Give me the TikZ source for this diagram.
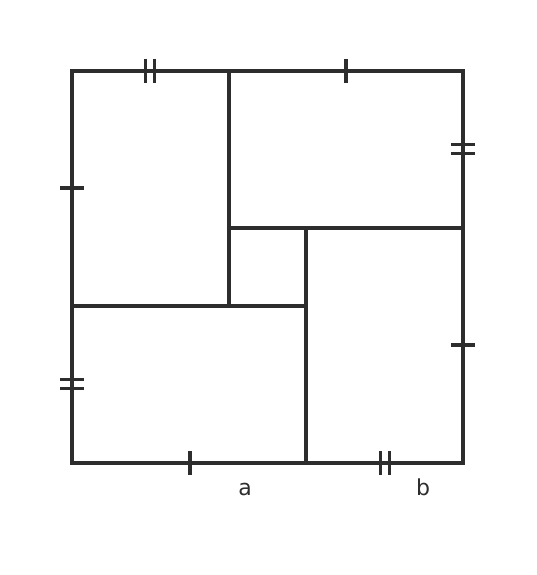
\documentclass[tikz,border=0pt]{standalone}
\usepackage{fontspec}
\setmainfont{DejaVu Sans}
\usepackage{tikz}
\usepackage{xcolor}
\definecolor{ink}{HTML}{2D2D2D}

\begin{document}
\begin{tikzpicture}[x=1pt, y=-1pt,
      edge/.style={draw=ink, line width=3.6pt},
      tickmark/.style={draw=ink, line width=3.6pt},
      lbl/.style={text=ink, font=\fontsize{22}{26}\selectfont, inner sep=0pt, anchor=base}]
    \useasboundingbox (0,0) rectangle (536,575);
    % corners and cut points
    \coordinate (TL) at (72,71);
    \coordinate (TR) at (463,71);
    \coordinate (BR) at (463,463);
    \coordinate (BL) at (72,463);
    \coordinate (P) at (229,71);
    \coordinate (Q) at (229,306);
    \coordinate (R) at (229,228);
    \coordinate (S) at (463,228);
    \coordinate (T) at (306,228);
    \coordinate (U) at (306,463);
    \coordinate (V) at (72,306);
    \coordinate (W) at (306,306);
    \draw[edge] (TL) -- (TR) -- (BR) -- (BL) -- cycle;
    \draw[edge] (P) -- (Q);
    \draw[edge] (R) -- (S);
    \draw[edge] (T) -- (U);
    \draw[edge] (V) -- (W);
    % single ticks on horizontal sides
    \foreach \x/\y in {346/71, 190/463}
      \draw[tickmark] (\x,\y-12) -- (\x,\y+12);
    % double ticks on horizontal sides
    \foreach \x/\y in {150/71, 385/463} {
      \draw[tickmark] (\x-4.5,\y-12) -- (\x-4.5,\y+12);
      \draw[tickmark] (\x+4.5,\y-12) -- (\x+4.5,\y+12);
    }
    % single ticks on vertical sides
    \foreach \x/\y in {72/188, 463/345}
      \draw[tickmark] (\x-12,\y) -- (\x+12,\y);
    % double ticks on vertical sides
    \foreach \x/\y in {463/149, 72/384} {
      \draw[tickmark] (\x-12,\y-4.5) -- (\x+12,\y-4.5);
      \draw[tickmark] (\x-12,\y+4.5) -- (\x+12,\y+4.5);
    }
    \node[lbl] (la) at (245,495) {a};
    \node[lbl] (lb) at (423,495) {b};
  \end{tikzpicture}
\end{document}
